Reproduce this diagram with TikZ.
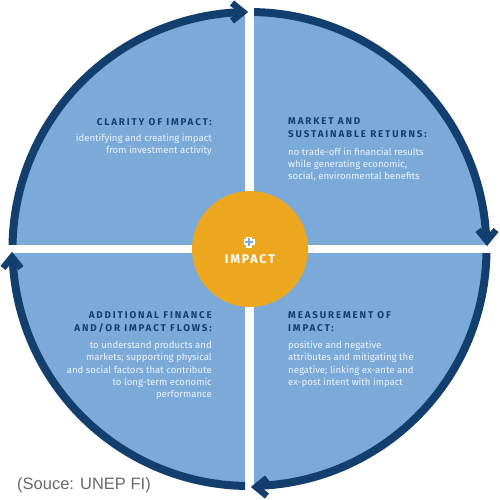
\documentclass[tikz,border=0pt]{standalone}
\usepackage{fontspec}
\setmainfont{Fira Sans}
\newfontfamily\headfont[LetterSpace=19]{Fira Sans}
\newfontfamily\impfont[LetterSpace=14]{Fira Sans}
\newfontfamily\bodyfont{Fira Sans}
\newfontfamily\srcfont{Liberation Sans}
\definecolor{lblue}{HTML}{7BAAD8}
\definecolor{navy}{HTML}{123F6E}
\definecolor{orng}{HTML}{ECA71F}
\definecolor{bodytxt}{HTML}{EEF3F9}
\definecolor{srcgray}{HTML}{6A6A6A}
\begin{document}
\begin{tikzpicture}[x=1pt,y=-1pt,
  quad/.style={fill=lblue},
  ring/.style={draw=navy,line width=8pt},
  chev/.style={draw=navy,line width=6.5pt,line join=miter,line cap=butt},
  head/.style={inner sep=0pt,text=navy,font=\headfont\bfseries\fontsize{9.8}{12.7}\selectfont},
  body/.style={inner sep=0pt,text=bodytxt,font=\bodyfont\fontsize{9.6}{12.3}\selectfont},
]
\useasboundingbox (0,0) rectangle (500,499);
\fill[white] (0,0) rectangle (500,499);
\coordinate (C) at (249.5,249);
\def\R{237}
% quadrant fills and rings
\begin{scope}
  \clip (0,0) rectangle (245,244.5);
  \fill[quad] (C) circle (\R);
  \draw[ring] (C) ++(180:\R) arc[start angle=180,end angle=268,radius=\R];
\end{scope}
\begin{scope}
  \clip (254,0) rectangle (500,244.5);
  \fill[quad] (C) circle (\R);
  \draw[ring] (C) ++(270:\R) arc[start angle=270,end angle=358,radius=\R];
\end{scope}
\begin{scope}
  \clip (254,253.5) rectangle (500,499);
  \fill[quad] (C) circle (\R);
  \draw[ring] (C) ++(0:\R) arc[start angle=0,end angle=88,radius=\R];
\end{scope}
\begin{scope}
  \clip (0,253.5) rectangle (245,499);
  \fill[quad] (C) circle (\R);
  \draw[ring] (C) ++(90:\R) arc[start angle=90,end angle=178,radius=\R];
\end{scope}
% chevron arrow heads
\draw[chev] (232,3) -- (243,12) -- (232,21);
\draw[chev] (478,230) -- (487,241) -- (496,230);
\draw[chev] (267,478) -- (256,487) -- (267,496);
\draw[chev] (3,268) -- (12,257) -- (21,268);
% centre circle
\fill[orng] (250,249) circle (58);
\draw[white,line width=5.5pt] (243.5,242) -- (254.5,242) (249,236.5) -- (249,247.5);
\draw[lblue,line width=2.6pt] (245,242) -- (253,242) (249,238) -- (249,246);
\node[inner sep=0pt,text=white,font=\impfont\bfseries\fontsize{12.5}{14}\selectfont] (imp) at (250,259) {IMPACT};
% texts
\node[head,anchor=north east,align=right] (h1) at (212,118) {CLARITY OF IMPACT:};
\node[body,anchor=north east,align=right] (b1) at (212,134) {identifying and creating impact\\from investment activity};
\node[head,anchor=north west,align=left] (h2) at (288,117.5) {MARKET AND\\SUSTAINABLE RETURNS:};
\node[body,anchor=north west,align=left] (b2) at (288,147.5) {no trade-off in financial results\\while generating economic,\\social, environmental benefits};
\node[head,anchor=north east,align=right] (h3) at (212,311.5) {ADDITIONAL FINANCE\\AND/OR IMPACT FLOWS:};
\node[body,anchor=north east,align=right] (b3) at (212,341) {to understand products and\\markets; supporting physical\\and social factors that contribute\\to long-term economic\\performance};
\node[head,anchor=north west,align=left] (h4) at (288,311.5) {MEASUREMENT OF\\IMPACT:};
\node[body,anchor=north west,align=left] (b4) at (288,341) {positive and negative\\attributes and mitigating the\\negative; linking ex-ante and\\ex-post intent with impact};
\node[inner sep=0pt,anchor=west,text=srcgray,font=\srcfont\fontsize{16.5}{18}\selectfont] (src) at (17,485) {(Souce: UNEP FI)};
\end{tikzpicture}
\end{document}
